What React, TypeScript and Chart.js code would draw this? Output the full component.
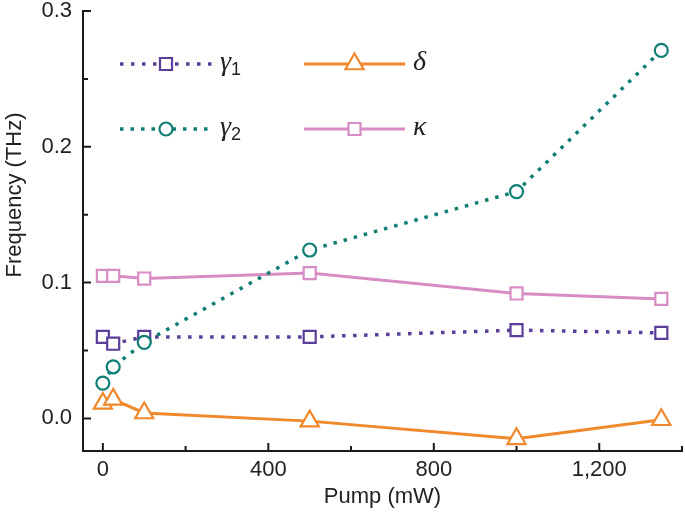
import React, { useEffect, useRef } from "react";
import { Chart, registerables } from "chart.js";
import { drawPoint } from "chart.js/helpers";

Chart.register(...registerables);

// ---- data ----
const pump = [0, 25, 100, 500, 1000, 1350];
const gamma1 = [0.06, 0.055, 0.06, 0.06, 0.065, 0.063];
const gamma2 = [0.026, 0.038, 0.056, 0.124, 0.167, 0.271];
const delta = [0.011, 0.014, 0.004, -0.002, -0.015, -0.001];
const kappa = [0.105, 0.105, 0.103, 0.107, 0.092, 0.088];

const xMajorTicks = [0, 400, 800, 1200];
const xMinorTicks = [200, 600, 1000, 1400];
const yMajorTicks = [0, 0.1, 0.2, 0.3];
const yMinorTicks = [0.05, 0.15, 0.25];

const legendSymbols = ["γ", "γ", "δ", "κ"];
const legendSubs = ["1", "2", "", ""];

const xTitle = "Pump (mW)";
const yTitle = "Frequency (THz)";

// ---- styles ----
const PURPLE = "#5b3e9a";
const TEAL = "#0f7f74";
const ORANGE = "#f0882c";
const PINK = "#d78cc4";
const AXIS = "#1a1a1a";
const TEXT = "#222222";
const SANS = "'Liberation Sans', Arial, sans-serif";
const SERIF = "'Liberation Serif', 'Times New Roman', serif";

// legend layout: [row, col] per dataset
const legendPos = [
  [0, 0],
  [1, 0],
  [0, 1],
  [1, 1],
];
const legendRowsY = [64, 129];
const legendColsX = [120, 304];
const legendLineLen = [92, 101];

const decorPlugin = {
  id: "decor",
  afterDatasetsDraw(chart: any) {
    const ctx = chart.ctx as CanvasRenderingContext2D;
    const xs = chart.scales.x;
    const ys = chart.scales.y;
    const { left, bottom } = chart.chartArea;
    ctx.save();
    // tick marks (inward)
    ctx.strokeStyle = AXIS;
    ctx.lineWidth = 2;
    ctx.lineCap = "butt";
    ctx.beginPath();
    yMajorTicks.forEach((v) => {
      const p = ys.getPixelForValue(v);
      ctx.moveTo(left, p);
      ctx.lineTo(left + 8, p);
    });
    yMinorTicks.forEach((v) => {
      const p = ys.getPixelForValue(v);
      ctx.moveTo(left, p);
      ctx.lineTo(left + 5, p);
    });
    xMajorTicks.forEach((v) => {
      const p = xs.getPixelForValue(v);
      ctx.moveTo(p, bottom);
      ctx.lineTo(p, bottom - 8);
    });
    xMinorTicks.forEach((v) => {
      const p = xs.getPixelForValue(v);
      ctx.moveTo(p, bottom);
      ctx.lineTo(p, bottom - 5);
    });
    ctx.stroke();

    // y title
    ctx.save();
    ctx.translate(15, 195);
    ctx.rotate(-Math.PI / 2);
    ctx.font = `22px ${SANS}`;
    ctx.fillStyle = TEXT;
    ctx.textAlign = "center";
    ctx.textBaseline = "middle";
    ctx.fillText(yTitle, 0, 0);
    ctx.restore();

    // legend
    chart.data.datasets.forEach((ds: any, i: number) => {
      const [row, col] = legendPos[i];
      const y = legendRowsY[row];
      const x0 = legendColsX[col];
      const len = legendLineLen[col];
      ctx.save();
      ctx.strokeStyle = ds.borderColor;
      ctx.lineWidth = ds.borderWidth;
      ctx.setLineDash(ds.borderDash || []);
      ctx.beginPath();
      ctx.moveTo(x0, y);
      ctx.lineTo(x0 + len, y);
      ctx.stroke();
      ctx.setLineDash([]);
      ctx.fillStyle = "#ffffff";
      ctx.strokeStyle = ds.pointBorderColor;
      ctx.lineWidth = ds.pointBorderWidth;
      drawPoint(
        ctx,
        { pointStyle: ds.pointStyle, rotation: 0, radius: ds.pointRadius, borderWidth: ds.pointBorderWidth },
        x0 + len / 2,
        y
      );
      // label
      ctx.fillStyle = TEXT;
      ctx.textAlign = "left";
      ctx.textBaseline = "alphabetic";
      ctx.font = `italic 28px ${SERIF}`;
      const tx = x0 + len + 8;
      ctx.fillText(legendSymbols[i], tx, y + 6);
      const w = ctx.measureText(legendSymbols[i]).width;
      if (legendSubs[i]) {
        ctx.font = `18px ${SANS}`;
        ctx.fillText(legendSubs[i], tx + w, y + 11);
      }
      ctx.restore();
    });
    ctx.restore();
  },
};

function makeSeries(
  data: number[],
  color: string,
  style: string,
  radius: number,
  dash: number[] | undefined,
  width: number,
  order: number
) {
  return {
    data: pump.map((x, i) => ({ x, y: data[i] })),
    borderColor: color,
    borderWidth: width,
    borderDash: dash,
    borderCapStyle: "butt",
    pointStyle: style,
    pointRadius: radius,
    pointBorderColor: color,
    pointBackgroundColor: "#ffffff",
    pointBorderWidth: 2.2,
    tension: 0,
    fill: false,
    clip: false,
    order,
  };
}

export default function App() {
  const ref = useRef<HTMLCanvasElement | null>(null);
  useEffect(() => {
    if (!ref.current) return;
    const chart = new Chart(ref.current, {
      type: "line",
      data: {
        datasets: [
          makeSeries(gamma1, PURPLE, "rect", 8.5, [3.5, 7.5], 3.5, 1),
          makeSeries(gamma2, TEAL, "circle", 6.5, [3.5, 7], 3.5, 0),
          makeSeries(delta, ORANGE, "triangle", 10.5, undefined, 3, 2),
          makeSeries(kappa, PINK, "rect", 8.5, undefined, 3, 3),
        ] as any,
      },
      options: {
        animation: false,
        responsive: false,
        events: [],
        layout: { padding: 0, autoPadding: false },
        plugins: { legend: { display: false }, tooltip: { enabled: false } },
        scales: {
          x: {
            type: "linear",
            min: -48,
            max: 1400,
            afterFit: (s: any) => {
              s.height = 65;
              s.paddingRight = 3;
              s.paddingLeft = 0;
            },
            afterBuildTicks: (s: any) => {
              s.ticks = xMajorTicks.map((v) => ({ value: v }));
            },
            grid: { display: false, drawTicks: false },
            border: { display: true, color: AXIS, width: 2 },
            ticks: {
              color: TEXT,
              font: { family: SANS, size: 22 },
              padding: 6,
              maxRotation: 0,
              callback: (v: any) => Number(v).toLocaleString("en-US"),
            },
            title: {
              display: true,
              text: xTitle,
              color: TEXT,
              font: { family: SANS, size: 22 },
              padding: { top: 0, bottom: 6 },
            },
          },
          y: {
            type: "linear",
            min: -0.024,
            max: 0.3,
            afterFit: (s: any) => {
              s.width = 83;
              s.paddingTop = 11;
              s.paddingBottom = 0;
            },
            afterBuildTicks: (s: any) => {
              s.ticks = yMajorTicks.map((v) => ({ value: v }));
            },
            grid: { display: false, drawTicks: false },
            border: { display: true, color: AXIS, width: 2 },
            ticks: {
              color: TEXT,
              font: { family: SANS, size: 22, lineHeight: 1 },
              padding: 11,
              callback: (v: any) => Number(v).toFixed(1),
            },
          },
        },
      },
      plugins: [decorPlugin],
    });
    return () => chart.destroy();
  }, []);
  return (
    <div style={{ position: "fixed", left: 0, top: 0, width: 685, height: 516, background: "#fff" }}>
      <canvas ref={ref} width={685} height={516} style={{ display: "block" }} />
    </div>
  );
}
